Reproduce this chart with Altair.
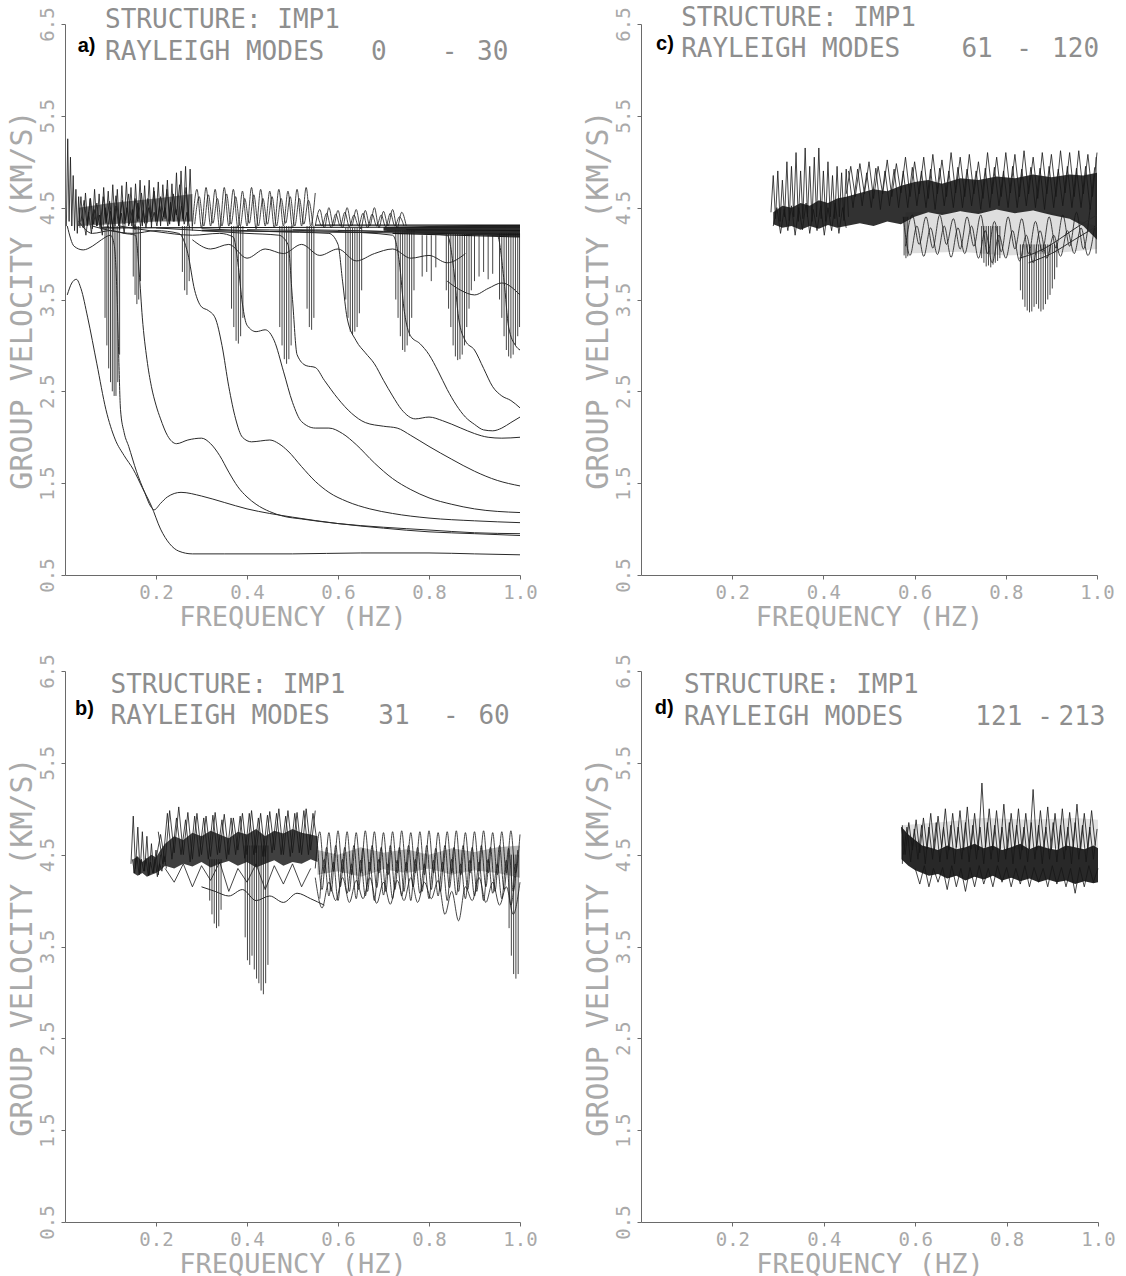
import altair as alt
import pandas as pd

# ---------------- texts / ticks ----------------
PANEL_KEYS = ["a", "b", "c", "d"]
PANEL_LETTERS = ["a)", "b)", "c)", "d)"]
STRUCTURE_LINE = "STRUCTURE: IMP1"
MODES_WORD = "RAYLEIGH MODES"
MODE_FIRST = ["0", "31", "61", "121"]
MODE_LAST = ["30", "60", "120", "213"]
X_TICKS = [0.2, 0.4, 0.6, 0.8, 1.0]
Y_TICKS = [0.5, 1.5, 2.5, 3.5, 4.5, 5.5, 6.5]
X_TITLE = "FREQUENCY (HZ)"
Y_TITLE = "GROUP VELOCITY (KM/S)"

# ---------------- panel a : separated low-order modes ----------------
A_M0_X = [0.005,0.015,0.025,0.035,0.05,0.07,0.09,0.11,0.13,0.15,0.17,0.19,0.21,0.23,0.25,0.28,0.35,0.5,0.65,0.8,0.9,1.0]
A_M0_Y = [3.55,3.68,3.72,3.62,3.3,2.8,2.3,1.98,1.8,1.65,1.45,1.25,1.0,0.84,0.76,0.73,0.73,0.73,0.74,0.74,0.73,0.72]
A_M1_X = [0.005,0.02,0.04,0.06,0.08,0.1,0.108,0.114,0.118,0.122,0.13,0.14,0.157,0.175,0.188,0.196,0.21,0.225,0.255,0.3,0.35,0.4,0.45,0.5,0.6,0.7,0.8,0.9,1.0]
A_M1_Y = [4.3,4.08,4.04,4.08,4.15,4.2,4.1,3.6,2.9,2.3,2.05,1.9,1.63,1.4,1.25,1.21,1.28,1.35,1.4,1.36,1.29,1.22,1.17,1.13,1.06,1.01,0.97,0.95,0.93]
A_M2_X = [0.03,0.06,0.1,0.13,0.155,0.163,0.17,0.18,0.19,0.2,0.21,0.225,0.245,0.27,0.3,0.32,0.34,0.36,0.38,0.4,0.42,0.45,0.48,0.52,0.6,0.7,0.8,0.9,1.0]
A_M2_Y = [4.35,4.22,4.25,4.22,4.2,3.8,3.3,2.85,2.55,2.35,2.2,2.02,1.93,1.97,1.99,1.93,1.8,1.62,1.46,1.35,1.27,1.19,1.14,1.11,1.06,1.02,0.99,0.96,0.95]
A_M3_X = [0.06,0.1,0.15,0.2,0.25,0.27,0.285,0.3,0.315,0.33,0.345,0.36,0.375,0.39,0.41,0.43,0.45,0.47,0.49,0.52,0.55,0.58,0.62,0.67,0.72,0.8,0.9,1.0]
A_M3_Y = [4.3,4.25,4.22,4.25,4.22,4.0,3.6,3.42,3.38,3.3,3.0,2.55,2.2,2.0,1.95,1.96,1.97,1.93,1.85,1.68,1.52,1.4,1.3,1.22,1.17,1.12,1.09,1.07]
A_M4_X = [0.12,0.2,0.28,0.34,0.37,0.38,0.39,0.4,0.42,0.44,0.46,0.48,0.5,0.52,0.55,0.58,0.61,0.64,0.68,0.72,0.76,0.8,0.85,0.9,1.0]
A_M4_Y = [4.3,4.24,4.2,4.22,4.18,3.9,3.45,3.22,3.15,3.17,3.05,2.72,2.38,2.17,2.1,2.1,2.04,1.92,1.72,1.55,1.43,1.34,1.27,1.22,1.18]
A_M5_X = [0.2,0.3,0.4,0.47,0.49,0.5,0.51,0.53,0.55,0.57,0.6,0.63,0.66,0.7,0.73,0.76,0.8,0.85,0.9,0.95,1.0]
A_M5_Y = [4.28,4.25,4.22,4.2,4.1,3.5,2.9,2.78,2.76,2.62,2.42,2.26,2.16,2.12,2.1,2.02,1.9,1.76,1.63,1.53,1.47]
A_M6_X = [0.3,0.45,0.58,0.6,0.61,0.62,0.64,0.66,0.68,0.7,0.72,0.74,0.77,0.8,0.83,0.87,0.9,0.93,0.96,1.0]
A_M6_Y = [4.27,4.24,4.22,4.1,3.7,3.3,3.05,2.92,2.8,2.62,2.45,2.3,2.2,2.22,2.18,2.1,2.04,2.0,1.99,2.0]
A_M7_X = [0.4,0.6,0.72,0.735,0.745,0.76,0.78,0.8,0.82,0.84,0.86,0.88,0.9,0.92,0.94,0.96,0.98,1.0]
A_M7_Y = [4.26,4.24,4.2,3.9,3.4,3.1,3.02,2.9,2.72,2.52,2.35,2.22,2.14,2.08,2.07,2.1,2.16,2.22]
A_M8_X = [0.5,0.7,0.84,0.855,0.865,0.88,0.9,0.92,0.94,0.96,0.98,1.0]
A_M8_Y = [4.26,4.24,4.2,3.8,3.3,3.05,2.95,2.75,2.55,2.45,2.4,2.32]
A_M9_X = [0.6,0.8,0.95,0.965,0.975,0.99,1.0]
A_M9_Y = [4.25,4.23,4.2,3.7,3.2,3.0,2.95]
A_M10_X = [0.84,0.87,0.9,0.93,0.96,1.0]
A_M10_Y = [3.7,3.6,3.55,3.62,3.68,3.55]

# ---------------- panel a : dense high-velocity modes ----------------
A_Z1_X = [0.003,0.006,0.009,0.012,0.015,0.018,0.021,0.024,0.027,0.03,0.033]
A_Z1_Y = [4.3,5.25,4.35,5.05,4.3,4.85,4.25,4.7,4.22,4.62,4.28]
A_Z2A_X = [0.03,0.035,0.04,0.045,0.05,0.055,0.06,0.065,0.07,0.075,
           0.08,0.085,0.09,0.095,0.1,0.105,0.11,0.115,0.12,0.125,
           0.13,0.135,0.14,0.145,0.15,0.155,0.16,0.165,0.17,0.175,
           0.18,0.185,0.19,0.195,0.2,0.205,0.21,0.215,0.22,0.225,
           0.23,0.235,0.24,0.245,0.25,0.255,0.26,0.265,0.27,0.275,0.28]
A_Z2A_Y = [4.3,4.62,4.28,4.66,4.32,4.6,4.27,4.7,4.3,4.65,
           4.25,4.72,4.33,4.68,4.28,4.75,4.3,4.7,4.26,4.74,
           4.32,4.78,4.3,4.72,4.28,4.76,4.35,4.8,4.3,4.74,
           4.33,4.8,4.28,4.72,4.35,4.78,4.3,4.75,4.38,4.8,
           4.32,4.76,4.35,4.88,4.3,4.9,4.36,4.95,4.3,4.92,4.25]
A_Z2B_X = [0.04,0.046,0.052,0.058,0.064,0.07,0.076,0.082,0.088,0.094,
           0.1,0.106,0.112,0.118,0.124,0.13,0.136,0.142,0.148,0.154,
           0.16,0.166,0.172,0.178,0.184,0.19,0.196,0.202,0.208,0.214,
           0.22,0.226,0.232,0.238,0.244,0.25,0.256,0.262,0.268,0.274]
A_Z2B_Y = [4.38,4.2,4.45,4.22,4.48,4.3,4.42,4.2,4.5,4.28,
           4.46,4.24,4.52,4.3,4.44,4.22,4.5,4.32,4.48,4.26,
           4.55,4.3,4.47,4.28,4.5,4.34,4.45,4.3,4.52,4.36,
           4.5,4.3,4.56,4.35,4.48,4.3,4.52,4.32,4.45,4.28]
A_Z2C_X = [0.035,0.042,0.049,0.056,0.063,0.07,0.077,0.084,0.091,0.098,
           0.105,0.112,0.119,0.126,0.133,0.14,0.147,0.154,0.161,0.168,
           0.175,0.182,0.189,0.196,0.203,0.21,0.217,0.224,0.231,0.238,
           0.245,0.252,0.259,0.266,0.273]
A_Z2C_Y = [4.35,4.58,4.3,4.6,4.32,4.55,4.28,4.62,4.35,4.57,
           4.3,4.63,4.33,4.58,4.36,4.65,4.3,4.6,4.38,4.66,
           4.33,4.6,4.4,4.68,4.35,4.62,4.4,4.7,4.36,4.65,
           4.42,4.75,4.38,4.72,4.35]
A_Z3A_X = [0.28,0.29,0.3,0.31,0.32,0.33,0.34,0.35,0.36,0.37,
           0.38,0.39,0.4,0.41,0.42,0.43,0.44,0.45,0.46,0.47,
           0.48,0.49,0.5,0.51,0.52,0.53,0.54,0.55]
A_Z3A_Y = [4.3,4.7,4.28,4.72,4.3,4.7,4.27,4.72,4.3,4.7,
           4.28,4.68,4.3,4.72,4.27,4.7,4.3,4.68,4.28,4.7,
           4.3,4.68,4.28,4.7,4.3,4.72,4.3,4.66]
A_Z3B_X = [0.285,0.295,0.305,0.315,0.325,0.335,0.345,0.355,0.365,0.375,
           0.385,0.395,0.405,0.415,0.425,0.435,0.445,0.455,0.465,0.475,
           0.485,0.495,0.505,0.515,0.525,0.535,0.545]
A_Z3B_Y = [4.32,4.62,4.3,4.64,4.33,4.6,4.3,4.65,4.32,4.62,
           4.3,4.6,4.33,4.64,4.3,4.6,4.32,4.62,4.3,4.6,
           4.33,4.62,4.3,4.6,4.32,4.58,4.3]
A_Z4A_X = [0.55,0.56,0.57,0.58,0.59,0.6,0.61,0.62,0.63,0.64,
           0.65,0.66,0.67,0.68,0.69,0.7,0.71,0.72,0.73,0.74,0.75]
A_Z4A_Y = [4.3,4.48,4.28,4.5,4.3,4.47,4.28,4.5,4.3,4.48,
           4.27,4.47,4.3,4.5,4.28,4.46,4.3,4.48,4.28,4.45,4.3]
A_Z4B_X = [0.555,0.565,0.575,0.585,0.595,0.605,0.615,0.625,0.635,0.645,
           0.655,0.665,0.675,0.685,0.695,0.705,0.715,0.725,0.735,0.745]
A_Z4B_Y = [4.42,4.3,4.44,4.28,4.43,4.3,4.45,4.29,4.42,4.3,
           4.44,4.28,4.43,4.3,4.42,4.29,4.44,4.3,4.4,4.3]
A_W_X = [0.28,0.32,0.36,0.4,0.44,0.48,0.52,0.56,0.6,0.64,0.68,0.72,0.76,0.8,0.84,0.88]
A_W_Y = [4.15,4.05,4.1,3.95,4.05,4.0,4.1,3.98,4.05,3.92,4.0,4.05,3.95,3.98,3.9,4.0]
# nearly flat asymptotic lines (start x, end x, start y, end y)
A_FLAT_X0 = [0.08, 0.3, 0.55, 0.72, 0.75]
A_FLAT_X1 = [1.0, 1.0, 1.0, 1.0, 1.0]
A_FLAT_Y0 = [4.28, 4.25, 4.31, 4.22, 4.26]
A_FLAT_Y1 = [4.29, 4.21, 4.31, 4.18, 4.25]
A_CORE_X = [0.03, 0.1, 0.2, 0.28]
A_CORE_LO = [4.3, 4.32, 4.35, 4.35]
A_CORE_HI = [4.5, 4.55, 4.6, 4.65]
A_BAND_X = [0.7, 0.8, 0.9, 1.0]
A_BAND_LO = [4.25, 4.22, 4.2, 4.18]
A_BAND_HI = [4.29, 4.3, 4.31, 4.31]
# near-vertical plunges (x, lowest value, top value)
SPK_A_X = [0.088,0.092,0.096,0.1,0.104,0.108,0.112,0.116,0.12,
           0.15,0.154,0.158,0.162,0.166,
           0.258,0.263,0.268,0.273,
           0.366,0.371,0.376,0.381,0.386,0.391,
           0.472,0.477,0.482,0.487,0.492,0.497,
           0.532,0.537,0.542,0.547,
           0.617,0.622,0.627,0.632,0.637,0.642,0.647,0.652,
           0.727,0.732,0.737,0.742,0.747,0.752,0.757,0.762,0.767,
           0.785,0.795,0.805,0.815,
           0.838,0.843,0.848,0.853,0.858,0.863,0.868,0.873,0.878,0.883,0.888,0.893,
           0.9,0.91,0.92,0.93,0.94,
           0.955,0.96,0.965,0.97,0.975,0.98,0.985,0.99,0.995,0.999]
SPK_A_LO = [3.3,3.0,2.75,2.6,2.5,2.45,2.45,2.6,2.9,
            3.75,3.55,3.45,3.5,3.7,
            3.8,3.6,3.55,3.7,
            3.4,3.2,3.05,3.02,3.1,3.3,
            3.2,3.0,2.85,2.8,2.85,3.0,
            3.4,3.2,3.17,3.3,
            3.5,3.3,3.15,3.12,3.15,3.2,3.35,3.6,
            3.5,3.3,3.1,2.95,2.93,3.0,3.1,3.3,3.6,
            3.75,3.8,3.7,3.85,
            3.6,3.4,3.2,3.0,2.88,2.84,2.85,2.9,3.0,3.2,3.4,3.6,
            3.7,3.75,3.8,3.72,3.78,
            3.5,3.3,3.1,2.95,2.88,2.86,2.9,3.0,3.1,3.2]
SPK_A_HI = [4.3]*9 + [4.3]*5 + [4.3]*4 + [4.3]*6 + [4.3]*6 + [4.3]*4 + [4.28]*8 + [4.25]*9 + [4.2]*4 + [4.22]*12 + [4.2]*5 + [4.22]*10

# ---------------- panel b ----------------
B_Z1_X = [0.145,0.15,0.155,0.16,0.165,0.17,0.175,0.18,0.185,0.19,0.195,0.2,0.205,0.21]
B_Z1_Y = [4.4,4.92,4.35,4.8,4.3,4.75,4.32,4.7,4.28,4.62,4.3,4.55,4.28,4.5]
B_Z1B_X = [0.148,0.153,0.158,0.163,0.168,0.173,0.178,0.183,0.188,0.193,0.198,0.203,0.208,0.213,0.218,0.223]
B_Z1B_Y = [4.45,4.3,4.48,4.28,4.45,4.32,4.46,4.27,4.42,4.3,4.45,4.26,4.4,4.32,4.48,4.35]
B_Z2A_X = [0.2,0.21,0.22,0.23,0.24,0.25,0.26,0.27,0.28,0.29,
           0.3,0.31,0.32,0.33,0.34,0.35,0.36,0.37,0.38,0.39,
           0.4,0.41,0.42,0.43,0.44,0.45,0.46,0.47,0.48,0.49,
           0.5,0.51,0.52,0.53,0.54,0.55]
B_Z2A_Y = [4.45,4.72,4.42,4.98,4.52,5.02,4.5,4.96,4.45,4.95,
           4.5,4.92,4.48,4.96,4.52,4.94,4.5,4.9,4.55,4.95,
           4.5,4.98,4.52,4.95,4.48,4.97,4.55,5.0,4.5,4.98,
           4.52,4.96,4.5,5.0,4.55,4.98]
B_Z2B_X = [0.205,0.215,0.225,0.235,0.245,0.255,0.265,0.275,0.285,0.295,
           0.305,0.315,0.325,0.335,0.345,0.355,0.365,0.375,0.385,0.395,
           0.405,0.415,0.425,0.435,0.445,0.455,0.465,0.475,0.485,0.495,
           0.505,0.515,0.525,0.535,0.545,0.555]
B_Z2B_Y = [4.75,4.4,4.95,4.45,4.9,4.5,4.88,4.42,4.92,4.48,
           4.9,4.45,4.93,4.5,4.88,4.45,4.9,4.5,4.92,4.46,
           4.95,4.5,4.9,4.48,4.93,4.52,4.95,4.5,4.92,4.48,
           4.95,4.52,4.98,4.5,4.95,4.6]
B_Z2D_X = [0.22,0.24,0.26,0.28,0.3,0.32,0.34,0.36,0.38,0.4,0.42,0.44,0.46,0.48,0.5,0.52,0.54]
B_Z2D_Y = [4.35,4.2,4.4,4.15,4.38,4.22,4.42,4.1,4.35,4.2,4.4,4.12,4.38,4.18,4.4,4.15,4.35]
B_Z3A_X = [0.55,0.56,0.57,0.58,0.59,0.6,0.61,0.62,0.63,0.64,
           0.65,0.66,0.67,0.68,0.69,0.7,0.71,0.72,0.73,0.74,
           0.75,0.76,0.77,0.78,0.79,0.8,0.81,0.82,0.83,0.84,
           0.85,0.86,0.87,0.88,0.89,0.9,0.91,0.92,0.93,0.94,
           0.95,0.96,0.97,0.98,0.99,1.0]
B_Z3A_Y = [4.35,4.75,4.3,4.74,4.32,4.76,4.3,4.75,4.28,4.74,
           4.3,4.76,4.32,4.75,4.3,4.74,4.28,4.75,4.3,4.76,
           4.32,4.74,4.3,4.75,4.28,4.76,4.3,4.74,4.32,4.75,
           4.3,4.76,4.28,4.74,4.3,4.75,4.32,4.76,4.3,4.74,
           4.28,4.75,4.3,4.76,4.3,4.72]
B_Z3B_X = [0.555,0.565,0.575,0.585,0.595,0.605,0.615,0.625,0.635,0.645,
           0.655,0.665,0.675,0.685,0.695,0.705,0.715,0.725,0.735,0.745,
           0.755,0.765,0.775,0.785,0.795,0.805,0.815,0.825,0.835,0.845,
           0.855,0.865,0.875,0.885,0.895,0.905,0.915,0.925,0.935,0.945,
           0.955,0.965,0.975,0.985,0.995]
B_Z3B_Y = [4.6,4.12,4.58,4.1,4.6,4.15,4.58,4.1,4.6,4.12,
           4.57,4.1,4.6,4.14,4.58,4.1,4.6,4.12,4.58,4.1,
           4.6,4.15,4.58,4.1,4.6,4.12,4.57,4.1,4.6,4.14,
           4.58,4.1,4.6,4.12,4.58,4.1,4.6,4.15,4.58,4.1,
           4.6,4.12,4.57,4.1,4.55]
B_Z3C_X = [0.55,0.565,0.58,0.595,0.61,0.625,0.64,0.655,0.67,0.685,
           0.7,0.715,0.73,0.745,0.76,0.775,0.79,0.805,0.82,0.835,
           0.85,0.865,0.88,0.895,0.91,0.925,0.94,0.955,0.97,0.985,1.0]
B_Z3C_Y = [4.25,3.92,4.2,4.0,4.25,3.98,4.22,4.02,4.25,3.97,
           4.2,3.96,4.22,4.0,4.25,3.98,4.2,4.02,4.22,3.85,
           4.1,3.78,4.15,4.0,4.25,3.98,4.2,3.95,4.15,3.85,4.2]
B_Z3D_X = [0.56,0.57,0.58,0.59,0.6,0.61,0.62,0.63,0.64,0.65,
           0.66,0.67,0.68,0.69,0.7,0.71,0.72,0.73,0.74,0.75,
           0.76,0.77,0.78,0.79,0.8,0.81,0.82,0.83,0.84,0.85,
           0.86,0.87,0.88,0.89,0.9,0.91,0.92,0.93,0.94,0.95,
           0.96,0.97,0.98,0.99]
B_Z3D_Y = [4.02,4.45,4.05,4.42,4.0,4.45,4.08,4.4,4.02,4.44,
           4.05,4.42,4.0,4.45,4.06,4.4,4.02,4.44,4.05,4.42,
           4.0,4.45,4.08,4.4,4.02,4.44,4.05,4.42,4.0,4.45,
           4.06,4.4,4.02,4.44,4.05,4.42,4.0,4.45,4.08,4.4,
           4.02,4.44,3.95,4.4]
B_W_X = [0.3,0.33,0.36,0.39,0.42,0.45,0.48,0.51,0.54,0.57]
B_W_Y = [4.15,4.1,4.05,4.12,4.0,4.05,3.98,4.08,4.02,3.95]
B_CORE1_X = [0.15,0.16,0.17,0.18,0.19,0.2,0.21,0.22,0.24,0.26,
             0.28,0.3,0.32,0.34,0.36,0.38,0.4,0.42,0.44,0.46,
             0.48,0.5,0.52,0.54,0.555]
B_CORE1_LO = [4.3,4.27,4.3,4.26,4.28,4.3,4.33,4.38,4.35,4.4,
              4.37,4.42,4.36,4.4,4.43,4.38,4.42,4.36,4.4,4.44,
              4.38,4.42,4.4,4.45,4.42]
B_CORE1_HI = [4.45,4.48,4.42,4.46,4.5,4.47,4.55,4.62,4.7,4.66,
              4.74,4.7,4.76,4.72,4.68,4.75,4.72,4.78,4.7,4.76,
              4.73,4.78,4.74,4.72,4.7]
B_CORE2_X = [0.555,0.6,0.65,0.7,0.75,0.8,0.85,0.9,0.95,1.0]
B_CORE2_LO = [4.28,4.32,4.26,4.34,4.3,4.35,4.28,4.33,4.3,4.25]
B_CORE2_HI = [4.55,4.5,4.58,4.52,4.56,4.5,4.57,4.53,4.58,4.6]
SPK_B_X = [0.318,0.323,0.328,0.333,0.338,0.343,
           0.396,0.401,0.406,0.411,0.416,0.421,0.426,0.431,0.436,0.441,0.446,
           0.976,0.981,0.986,0.991,0.996]
SPK_B_LO = [4.0,3.85,3.75,3.7,3.72,3.9,
            3.6,3.35,3.3,3.4,3.25,3.15,3.1,3.02,2.98,3.1,3.3,
            3.7,3.4,3.2,3.15,3.2]
SPK_B_HI = [4.45]*6 + [4.6]*11 + [4.5]*5

# ---------------- panel c ----------------
C_Z1A_X = [0.285,0.29,0.295,0.3,0.305,0.31,0.315,0.32,0.325,0.33,
           0.335,0.34,0.345,0.35,0.355,0.36,0.365,0.37,0.375,0.38,
           0.385,0.39,0.395,0.4,0.405,0.41,0.415,0.42,0.425,0.43,
           0.435,0.44,0.445,0.45,0.455]
C_Z1A_Y = [4.45,4.85,4.38,4.9,4.35,4.8,4.4,5.0,4.36,4.95,
           4.4,5.1,4.35,4.9,4.38,5.15,4.4,4.95,4.35,5.05,
           4.4,5.15,4.38,4.9,4.35,5.0,4.4,4.85,4.38,4.95,
           4.4,4.88,4.36,4.92,4.4]
C_Z1B_X = [0.29,0.298,0.306,0.314,0.322,0.33,0.338,0.346,0.354,0.362,
           0.37,0.378,0.386,0.394,0.402,0.41,0.418,0.426,0.434,0.442,0.45]
C_Z1B_Y = [4.3,4.5,4.22,4.48,4.25,4.52,4.2,4.5,4.26,4.55,
           4.22,4.48,4.25,4.52,4.2,4.5,4.25,4.55,4.22,4.5,4.28]
C_Z2A_X = [0.45,0.46,0.47,0.48,0.49,0.5,0.51,0.52,0.53,0.54,
           0.55,0.56,0.57,0.58,0.59,0.6,0.61,0.62,0.63,0.64,
           0.65,0.66,0.67,0.68,0.69,0.7,0.71,0.72,0.73,0.74,
           0.75,0.76,0.77,0.78,0.79,0.8,0.81,0.82,0.83,0.84,
           0.85,0.86,0.87,0.88,0.89,0.9,0.91,0.92,0.93,0.94,
           0.95,0.96,0.97,0.98,0.99,1.0]
C_Z2A_Y = [4.65,4.95,4.62,4.98,4.65,5.0,4.6,4.95,4.65,5.02,
           4.62,4.98,4.66,5.05,4.62,5.0,4.65,5.05,4.6,5.08,
           4.65,5.02,4.62,5.1,4.66,5.05,4.62,5.08,4.65,5.0,
           4.6,5.1,4.65,5.05,4.62,5.1,4.66,5.08,4.62,5.12,
           4.65,5.05,4.6,5.1,4.65,5.08,4.62,5.12,4.66,5.1,
           4.62,5.12,4.65,5.08,4.62,5.1]
C_Z2B_X = [0.455,0.465,0.475,0.485,0.495,0.505,0.515,0.525,0.535,0.545,
           0.555,0.565,0.575,0.585,0.595,0.605,0.615,0.625,0.635,0.645,
           0.655,0.665,0.675,0.685,0.695,0.705,0.715,0.725,0.735,0.745,
           0.755,0.765,0.775,0.785,0.795,0.805,0.815,0.825,0.835,0.845,
           0.855,0.865,0.875,0.885,0.895,0.905,0.915,0.925,0.935,0.945,
           0.955,0.965,0.975,0.985,0.995]
C_Z2B_Y = [4.9,4.5,4.92,4.52,4.88,4.5,4.93,4.48,4.9,4.52,
           4.92,4.5,4.9,4.5,4.94,4.52,4.9,4.5,4.92,4.48,
           4.93,4.52,4.9,4.5,4.94,4.5,4.92,4.52,4.9,4.48,
           4.93,4.5,4.94,4.52,4.9,4.5,4.95,4.5,4.92,4.52,
           4.94,4.5,4.93,4.48,4.95,4.5,4.92,4.52,4.95,4.5,
           4.93,4.5,4.95,4.48,4.94]
C_Z3A_X = [0.575,0.59,0.605,0.62,0.635,0.65,0.665,0.68,0.695,0.71,
           0.725,0.74,0.755,0.77,0.785,0.8,0.815,0.83,0.845,0.86,
           0.875,0.89,0.905,0.92,0.935,0.95,0.965,0.98,0.995]
C_Z3A_Y = [4.4,3.98,4.3,3.97,4.28,3.99,4.3,3.96,4.28,4.0,
           4.3,3.95,4.25,3.9,4.2,3.95,4.25,3.92,4.2,3.9,
           4.25,3.95,4.2,3.97,4.25,4.0,4.28,3.98,4.3]
C_Z3B_X = [0.58,0.595,0.61,0.625,0.64,0.655,0.67,0.685,0.7,0.715,
           0.73,0.745,0.76,0.775,0.79,0.805,0.82,0.835,0.85,0.865,
           0.88,0.895,0.91,0.925,0.94,0.955,0.97,0.985]
C_Z3B_Y = [4.08,4.42,4.1,4.4,4.06,4.42,4.1,4.38,4.05,4.4,
           4.08,4.42,4.0,4.35,4.02,4.4,4.05,4.38,4.0,4.35,
           4.02,4.4,4.06,4.42,4.08,4.45,4.05,4.5]
C_Z4A_X = [0.83,0.87,0.9,0.93,0.96,1.0]
C_Z4A_Y = [3.95,4.02,4.1,4.2,4.3,4.42]
C_Z4B_X = [0.85,0.9,0.95,1.0]
C_Z4B_Y = [3.9,4.0,4.15,4.3]
C_CORE_X = [0.29,0.31,0.33,0.35,0.37,0.39,0.41,0.43,0.45,0.48,
            0.51,0.54,0.57,0.6,0.63,0.66,0.7,0.74,0.78,0.82,
            0.86,0.9,0.94,0.97,1.0]
C_CORE_LO = [4.32,4.28,4.3,4.26,4.3,4.27,4.31,4.28,4.3,4.33,
             4.3,4.35,4.32,4.4,4.45,4.42,4.46,4.43,4.48,4.44,
             4.47,4.42,4.38,4.3,4.15]
C_CORE_HI = [4.45,4.52,4.5,4.55,4.52,4.58,4.55,4.6,4.62,4.66,
             4.7,4.68,4.74,4.78,4.8,4.76,4.82,4.8,4.84,4.82,
             4.86,4.83,4.86,4.85,4.88]
C_MESH_X = [0.58,0.7,0.8,0.9,1.0]
C_MESH_LO = [4.0,4.02,3.98,4.0,4.05]
C_MESH_HI = [4.45,4.45,4.48,4.45,4.3]
SPK_C_X = [0.577,0.581,0.585,
           0.747,0.752,0.757,0.762,0.767,0.772,0.777,0.782,0.787,
           0.832,0.837,0.842,0.847,0.852,0.857,0.862,0.867,0.872,0.877,0.882,0.887,0.892,0.897,0.902,0.907,0.912,
           0.998]
SPK_C_LO = [3.98,3.95,3.97,
            3.95,3.9,3.86,3.87,3.85,3.88,3.9,3.92,3.95,
            3.6,3.5,3.42,3.38,3.36,3.37,3.42,3.45,3.4,3.37,3.39,3.45,3.5,3.55,3.62,3.72,3.85,
            4.0]
SPK_C_HI = [4.4]*3 + [4.3]*9 + [4.1]*17 + [5.05]

# ---------------- panel d ----------------
D_Z1A_X = [0.57,0.578,0.586,0.594,0.602,0.61,0.618,0.626,0.634,0.642,
           0.65,0.658,0.666,0.674,0.682,0.69,0.698,0.706,0.714,0.722,
           0.73,0.738,0.746,0.754,0.762,0.77,0.778,0.786,0.794,0.802,
           0.81,0.818,0.826,0.834,0.842,0.85,0.858,0.866,0.874,0.882,
           0.89,0.898,0.906,0.914,0.922,0.93,0.938,0.946,0.954,0.962,
           0.97,0.978,0.986,0.994]
D_Z1A_Y = [4.8,4.5,4.85,4.55,4.88,4.52,4.9,4.56,4.95,4.55,
           4.92,4.58,5.0,4.55,4.95,4.58,4.98,4.55,5.02,4.56,
           4.95,4.55,5.28,4.58,5.0,4.55,4.98,4.56,5.05,4.55,
           4.95,4.58,5.0,4.55,4.95,4.56,5.21,4.55,4.98,4.58,
           5.02,4.55,4.95,4.56,5.0,4.55,4.96,4.58,5.05,4.55,
           4.95,4.56,4.98,4.6]
D_Z1B_X = [0.574,0.582,0.59,0.598,0.606,0.614,0.622,0.63,0.638,0.646,
           0.654,0.662,0.67,0.678,0.686,0.694,0.702,0.71,0.718,0.726,
           0.734,0.742,0.75,0.758,0.766,0.774,0.782,0.79,0.798,0.806,
           0.814,0.822,0.83,0.838,0.846,0.854,0.862,0.87,0.878,0.886,
           0.894,0.902,0.91,0.918,0.926,0.934,0.942,0.95,0.958,0.966,
           0.974,0.982,0.99,0.998]
D_Z1B_Y = [4.5,4.8,4.42,4.78,4.45,4.82,4.4,4.8,4.45,4.85,
           4.42,4.8,4.45,4.82,4.4,4.8,4.45,4.85,4.42,4.82,
           4.45,4.8,4.4,4.85,4.45,4.82,4.42,4.8,4.45,4.85,
           4.4,4.82,4.45,4.8,4.42,4.85,4.45,4.82,4.4,4.8,
           4.45,4.85,4.42,4.82,4.45,4.8,4.4,4.85,4.45,4.82,
           4.42,4.8,4.45,4.78]
D_Z2_X = [0.6,0.61,0.62,0.63,0.64,0.65,0.66,0.67,0.68,0.69,
          0.7,0.71,0.72,0.73,0.74,0.75,0.76,0.77,0.78,0.79,
          0.8,0.81,0.82,0.83,0.84,0.85,0.86,0.87,0.88,0.89,
          0.9,0.91,0.92,0.93,0.94,0.95,0.96,0.97,0.98,0.99,1.0]
D_Z2_Y = [4.35,4.18,4.38,4.15,4.35,4.2,4.36,4.12,4.38,4.15,
          4.35,4.1,4.36,4.15,4.38,4.18,4.35,4.15,4.38,4.2,
          4.36,4.15,4.35,4.18,4.38,4.15,4.36,4.2,4.35,4.15,
          4.38,4.18,4.36,4.15,4.35,4.08,4.36,4.15,4.38,4.2,4.35]
D_CORE_X = [0.57,0.585,0.6,0.615,0.63,0.65,0.67,0.69,0.71,0.73,
            0.75,0.77,0.79,0.81,0.83,0.85,0.87,0.89,0.91,0.93,
            0.95,0.97,0.99,1.0]
D_CORE_LO = [4.45,4.38,4.33,4.3,4.27,4.29,4.24,4.27,4.22,4.26,
             4.23,4.27,4.22,4.25,4.21,4.24,4.2,4.23,4.2,4.22,
             4.18,4.21,4.19,4.2]
D_CORE_HI = [4.8,4.72,4.66,4.6,4.58,4.55,4.6,4.56,4.58,4.62,
             4.57,4.6,4.55,4.58,4.62,4.56,4.6,4.57,4.55,4.6,
             4.58,4.56,4.6,4.57]
D_FRINGE_X = [0.57,0.65,0.75,0.85,0.95,1.0]
D_FRINGE_LO = [4.6,4.56,4.57,4.56,4.58,4.57]
D_FRINGE_HI = [4.82,4.85,4.9,4.88,4.9,4.88]
SPK_D_X = [0.572]
SPK_D_LO = [4.4]
SPK_D_HI = [4.82]

# ---------------- styling / layout constants ----------------
FONT = "DejaVu Sans Mono"
INK = "#161616"
AXIS_GRAY = "#a9a9a9"
HEAD_GRAY = "#8e8e8e"
LINE_COL = "#6a6a6a"
LAYOUT = {
    "a": dict(w=455, hx=0.088, y1=6.54, y2=6.2, lx=0.028, ly=6.26, nx=(0.69, 0.845, 0.94)),
    "b": dict(w=455, hx=0.1, y1=6.35, y2=6.01, lx=0.022, ly=6.09, nx=(0.723, 0.848, 0.943)),
    "c": dict(w=456, hx=0.088, y1=6.56, y2=6.23, lx=0.033, ly=6.28, nx=(0.737, 0.84, 0.953)),
    "d": dict(w=457, hx=0.094, y1=6.35, y2=6.0, lx=0.03, ly=6.1, nx=(0.783, 0.884, 0.965)),
}
PANEL_H = 551


def lines_df(items):
    rows = []
    for name, xs, ys in items:
        for i, (x, y) in enumerate(zip(xs, ys, strict=True)):
            rows.append({"s": name, "i": i, "x": x, "y": y})
    return pd.DataFrame(rows)


def band_df(items):
    rows = []
    for name, xs, lo, hi, op in items:
        for x, a, b in zip(xs, lo, hi, strict=True):
            rows.append({"g": name, "x": x, "lo": a, "hi": b, "op": op})
    return pd.DataFrame(rows)


X_SCALE = alt.Scale(domain=[0, 1], nice=False, zero=False)
Y_SCALE = alt.Scale(domain=[0.5, 6.5], nice=False, zero=False)
X_AXIS = alt.Axis(values=X_TICKS, format=".1f", grid=False, domainColor=LINE_COL,
                  tickColor=LINE_COL, tickSize=4, labelFont=FONT, labelFontSize=19,
                  labelColor=AXIS_GRAY, labelPadding=4, labelFlush=False, labelOverlap=False,
                  titleFont=FONT, titleFontSize=27, titleFontWeight="normal",
                  titleColor=AXIS_GRAY, titlePadding=2)
Y_AXIS = alt.Axis(values=Y_TICKS, format=".1f", grid=False, domainColor=LINE_COL,
                  tickColor=LINE_COL, tickSize=4, labelFont=FONT, labelFontSize=19,
                  labelColor=AXIS_GRAY, labelAngle=270, labelAlign="center",
                  labelBaseline="bottom", labelPadding=4, labelFlush=False,
                  labelOverlap=False, titleFont=FONT, titleFontSize=30,
                  titleFontWeight="normal", titleColor=AXIS_GRAY, titlePadding=1)


def xe(f="x"):
    return alt.X(f"{f}:Q", scale=X_SCALE, axis=X_AXIS, title=X_TITLE)


def ye(f="y"):
    return alt.Y(f"{f}:Q", scale=Y_SCALE, axis=Y_AXIS, title=Y_TITLE)


def panel(idx, smooth, zig, arcs, bands, spikes, segs=None):
    key = PANEL_KEYS[idx]
    L = LAYOUT[key]
    layers = []
    if bands:
        layers.append(alt.Chart(band_df(bands)).mark_area(color=INK).encode(
            x=xe(), y=ye("lo"), y2=alt.Y2("hi"), detail="g:N",
            opacity=alt.Opacity("op:Q", scale=None)))
    if spikes:
        sx, slo, shi = spikes
        layers.append(alt.Chart(pd.DataFrame({"x": sx, "lo": slo, "hi": shi})).mark_rule(
            color=INK, strokeWidth=0.8).encode(x=xe(), y=ye("lo"), y2=alt.Y2("hi")))
    if segs:
        x0, x1, y0, y1 = segs
        layers.append(alt.Chart(pd.DataFrame({"x": x0, "x2": x1, "y": y0, "y2": y1})).mark_rule(
            color=INK, strokeWidth=1.1).encode(x=xe(), x2=alt.X2("x2"), y=ye(), y2=alt.Y2("y2")))
    if zig:
        layers.append(alt.Chart(lines_df(zig)).mark_line(color=INK, strokeWidth=0.8).encode(
            x=xe(), y=ye(), detail="s:N", order="i:Q"))
    if arcs:
        layers.append(alt.Chart(lines_df(arcs)).mark_line(color=INK, strokeWidth=0.8,
                                                          interpolate="monotone").encode(
            x=xe(), y=ye(), detail="s:N", order="i:Q"))
    if smooth:
        layers.append(alt.Chart(lines_df(smooth)).mark_line(color="#2a2a2a", strokeWidth=1.0,
                                                            interpolate="monotone").encode(
            x=xe(), y=ye(), detail="s:N", order="i:Q"))
    head = pd.DataFrame({"x": [L["hx"], L["hx"]], "y": [L["y1"], L["y2"]],
                         "t": [STRUCTURE_LINE, MODES_WORD]})
    layers.append(alt.Chart(head).mark_text(align="left", baseline="middle", font=FONT,
                                            fontSize=26, color=HEAD_GRAY).encode(
        x=xe(), y=ye(), text="t:N"))
    nums = pd.DataFrame({"x": list(L["nx"]), "y": [L["y2"]] * 3,
                         "t": [MODE_FIRST[idx], "-", MODE_LAST[idx]]})
    layers.append(alt.Chart(nums).mark_text(align="center", baseline="middle", font=FONT,
                                            fontSize=26, color=HEAD_GRAY).encode(
        x=xe(), y=ye(), text="t:N"))
    lab = pd.DataFrame({"x": [L["lx"]], "y": [L["ly"]], "t": [PANEL_LETTERS[idx]]})
    layers.append(alt.Chart(lab).mark_text(align="left", baseline="middle",
                                           font="Liberation Sans", fontWeight="bold",
                                           fontSize=20, color="#000000").encode(
        x=xe(), y=ye(), text="t:N"))
    return alt.layer(*layers).properties(width=L["w"], height=PANEL_H)


pa = panel(0,
           smooth=[("m0", A_M0_X, A_M0_Y), ("m1", A_M1_X, A_M1_Y), ("m2", A_M2_X, A_M2_Y),
                   ("m3", A_M3_X, A_M3_Y), ("m4", A_M4_X, A_M4_Y), ("m5", A_M5_X, A_M5_Y),
                   ("m6", A_M6_X, A_M6_Y), ("m7", A_M7_X, A_M7_Y), ("m8", A_M8_X, A_M8_Y),
                   ("m9", A_M9_X, A_M9_Y), ("m10", A_M10_X, A_M10_Y), ("w", A_W_X, A_W_Y)],
           zig=[("z1", A_Z1_X, A_Z1_Y), ("z2a", A_Z2A_X, A_Z2A_Y), ("z2b", A_Z2B_X, A_Z2B_Y),
                ("z2c", A_Z2C_X, A_Z2C_Y)],
           arcs=[("z3a", A_Z3A_X, A_Z3A_Y), ("z3b", A_Z3B_X, A_Z3B_Y),
                 ("z4a", A_Z4A_X, A_Z4A_Y), ("z4b", A_Z4B_X, A_Z4B_Y)],
           bands=[("core", A_CORE_X, A_CORE_LO, A_CORE_HI, 0.55),
                  ("band", A_BAND_X, A_BAND_LO, A_BAND_HI, 0.9)],
           spikes=(SPK_A_X, SPK_A_LO, SPK_A_HI),
           segs=(A_FLAT_X0, A_FLAT_X1, A_FLAT_Y0, A_FLAT_Y1))

pb = panel(1,
           smooth=[("w", B_W_X, B_W_Y)],
           zig=[("z1", B_Z1_X, B_Z1_Y), ("z1b", B_Z1B_X, B_Z1B_Y), ("z2a", B_Z2A_X, B_Z2A_Y),
                ("z2b", B_Z2B_X, B_Z2B_Y), ("z2d", B_Z2D_X, B_Z2D_Y)],
           arcs=[("z3a", B_Z3A_X, B_Z3A_Y), ("z3b", B_Z3B_X, B_Z3B_Y),
                 ("z3c", B_Z3C_X, B_Z3C_Y), ("z3d", B_Z3D_X, B_Z3D_Y)],
           bands=[("c1", B_CORE1_X, B_CORE1_LO, B_CORE1_HI, 0.82),
                  ("c2", B_CORE2_X, B_CORE2_LO, B_CORE2_HI, 0.3)],
           spikes=(SPK_B_X, SPK_B_LO, SPK_B_HI))

pc = panel(2,
           smooth=[("d1", C_Z4A_X, C_Z4A_Y), ("d2", C_Z4B_X, C_Z4B_Y)],
           zig=[("z1a", C_Z1A_X, C_Z1A_Y), ("z1b", C_Z1B_X, C_Z1B_Y),
                ("z2a", C_Z2A_X, C_Z2A_Y), ("z2b", C_Z2B_X, C_Z2B_Y)],
           arcs=[("z3a", C_Z3A_X, C_Z3A_Y), ("z3b", C_Z3B_X, C_Z3B_Y)],
           bands=[("mesh", C_MESH_X, C_MESH_LO, C_MESH_HI, 0.14),
                  ("core", C_CORE_X, C_CORE_LO, C_CORE_HI, 0.88)],
           spikes=(SPK_C_X, SPK_C_LO, SPK_C_HI))

pd_ = panel(3,
            smooth=None,
            zig=[("z1a", D_Z1A_X, D_Z1A_Y), ("z1b", D_Z1B_X, D_Z1B_Y), ("z2", D_Z2_X, D_Z2_Y)],
            arcs=None,
            bands=[("fringe", D_FRINGE_X, D_FRINGE_LO, D_FRINGE_HI, 0.12),
                   ("core", D_CORE_X, D_CORE_LO, D_CORE_HI, 0.92)],
            spikes=(SPK_D_X, SPK_D_LO, SPK_D_HI))

top = alt.hconcat(pa, pc, spacing=45)
bottom = alt.hconcat(pb, pd_, spacing=45)
chart = alt.vconcat(top, bottom, spacing=23).properties(
    padding={"left": 7, "top": 5, "right": 4, "bottom": 4}
).configure_view(strokeWidth=0)

chart.save("out.html", embed_options={"renderer": "svg", "actions": False})
